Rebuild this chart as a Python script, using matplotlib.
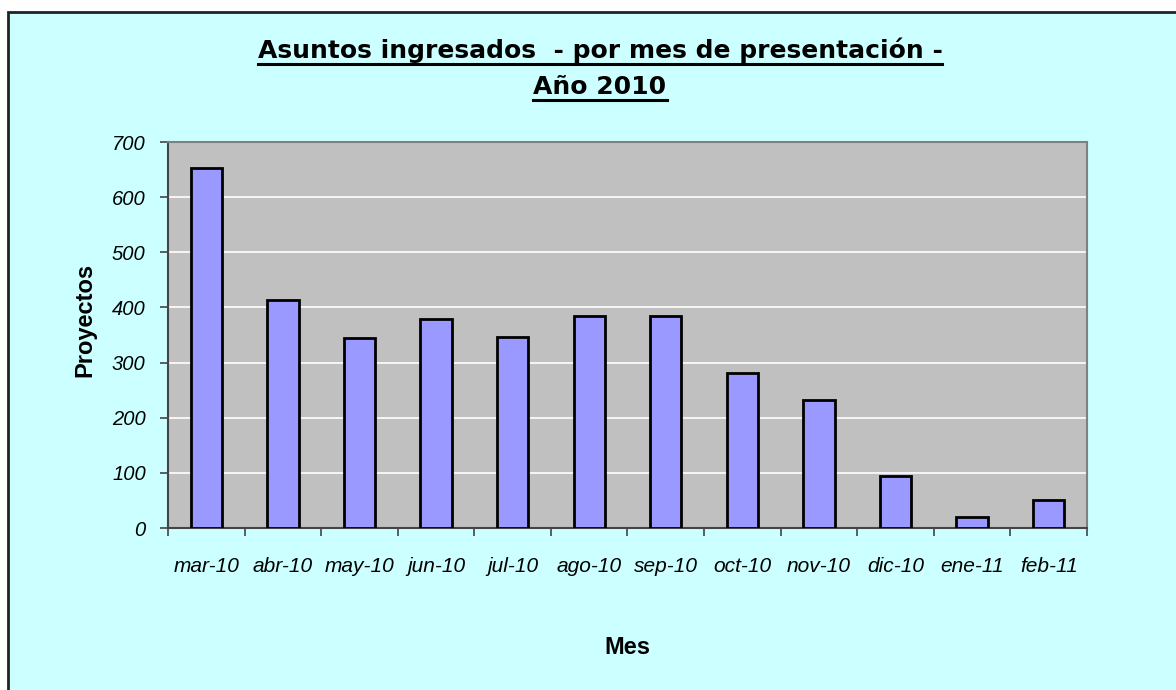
import matplotlib
matplotlib.use("Agg")
import matplotlib.pyplot as plt
from matplotlib.lines import Line2D
from matplotlib.patches import Rectangle
import numpy as np

months = ["mar-10", "abr-10", "may-10", "jun-10", "jul-10", "ago-10",
          "sep-10", "oct-10", "nov-10", "dic-10", "ene-11", "feb-11"]
proyectos = [653, 413, 345, 379, 346, 385, 385, 281, 232, 94, 20, 51]
yticks = [0, 100, 200, 300, 400, 500, 600, 700]

title1 = "Asuntos ingresados  - por mes de presentación -"
title2 = "Año 2010"

W, H = 1176, 690
fig = plt.figure(figsize=(W/100, H/100), dpi=100, facecolor="white")

# chart-area background with dark frame on left/top
fig.add_artist(Rectangle((8/W, -0.1), 1.2, 1 - 12/H + 0.1,
                         transform=fig.transFigure, facecolor="#CCFFFF",
                         edgecolor="#222222", linewidth=2, zorder=0))

ax = fig.add_axes([168/W, 1-528/H, (1087-168)/W, (528-142)/H])
ax.set_facecolor("#C0C0C0")

x = np.arange(len(months))
ax.bar(x, proyectos, width=0.41, color="#9999FF", edgecolor="black",
       linewidth=2, zorder=3)

ax.set_xlim(-0.5, len(months) - 0.5)
ax.set_ylim(0, 700)
ax.set_yticks(yticks)
ax.set_yticklabels([str(v) for v in yticks], fontstyle="italic",
                   family="Liberation Sans", fontsize=14.5)
ax.yaxis.grid(True, color="white", linewidth=1.2, zorder=0)
ax.set_axisbelow(True)

ax.set_xticks(x)
ax.set_xticklabels(months, fontstyle="italic", family="Liberation Sans",
                   fontsize=15)
ax.set_xticks(np.arange(-0.5, len(months)), minor=True)
ax.tick_params(axis="x", which="major", length=0, pad=21)
ax.tick_params(axis="x", which="minor", length=6, width=1.2, color="#444444")
ax.tick_params(axis="y", length=6, width=1.2, color="#444444", pad=10)

for side in ["top", "right"]:
    ax.spines[side].set_color("#808080")
    ax.spines[side].set_linewidth(1.5)
for side in ["left", "bottom"]:
    ax.spines[side].set_color("#444444")
    ax.spines[side].set_linewidth(1.5)

fig.text(85/W, 1-320/H, "Proyectos", ha="center", va="center",
         rotation=90, fontweight="bold", family="Liberation Sans",
         fontsize=17)
fig.text(627/W, 1-647/H, "Mes", ha="center", va="center",
         fontweight="bold", family="Liberation Sans", fontsize=17)

t1 = fig.text(600/W, 1-58/H, title1, ha="center", va="baseline",
              fontweight="bold", family="DejaVu Sans", fontsize=18)
t2 = fig.text(600/W, 1-94/H, title2, ha="center", va="baseline",
              fontweight="bold", family="DejaVu Sans", fontsize=18)

fig.canvas.draw()
r = fig.canvas.get_renderer()
for t, yb in ((t1, 58), (t2, 94)):
    bb = t.get_window_extent(r).transformed(fig.transFigure.inverted())
    y = 1 - (yb + 5.5) / H
    fig.add_artist(Line2D([bb.x0, bb.x1], [y, y], color="black",
                          linewidth=2.2, transform=fig.transFigure))

fig.savefig("out.png", dpi=100, facecolor=fig.get_facecolor())
